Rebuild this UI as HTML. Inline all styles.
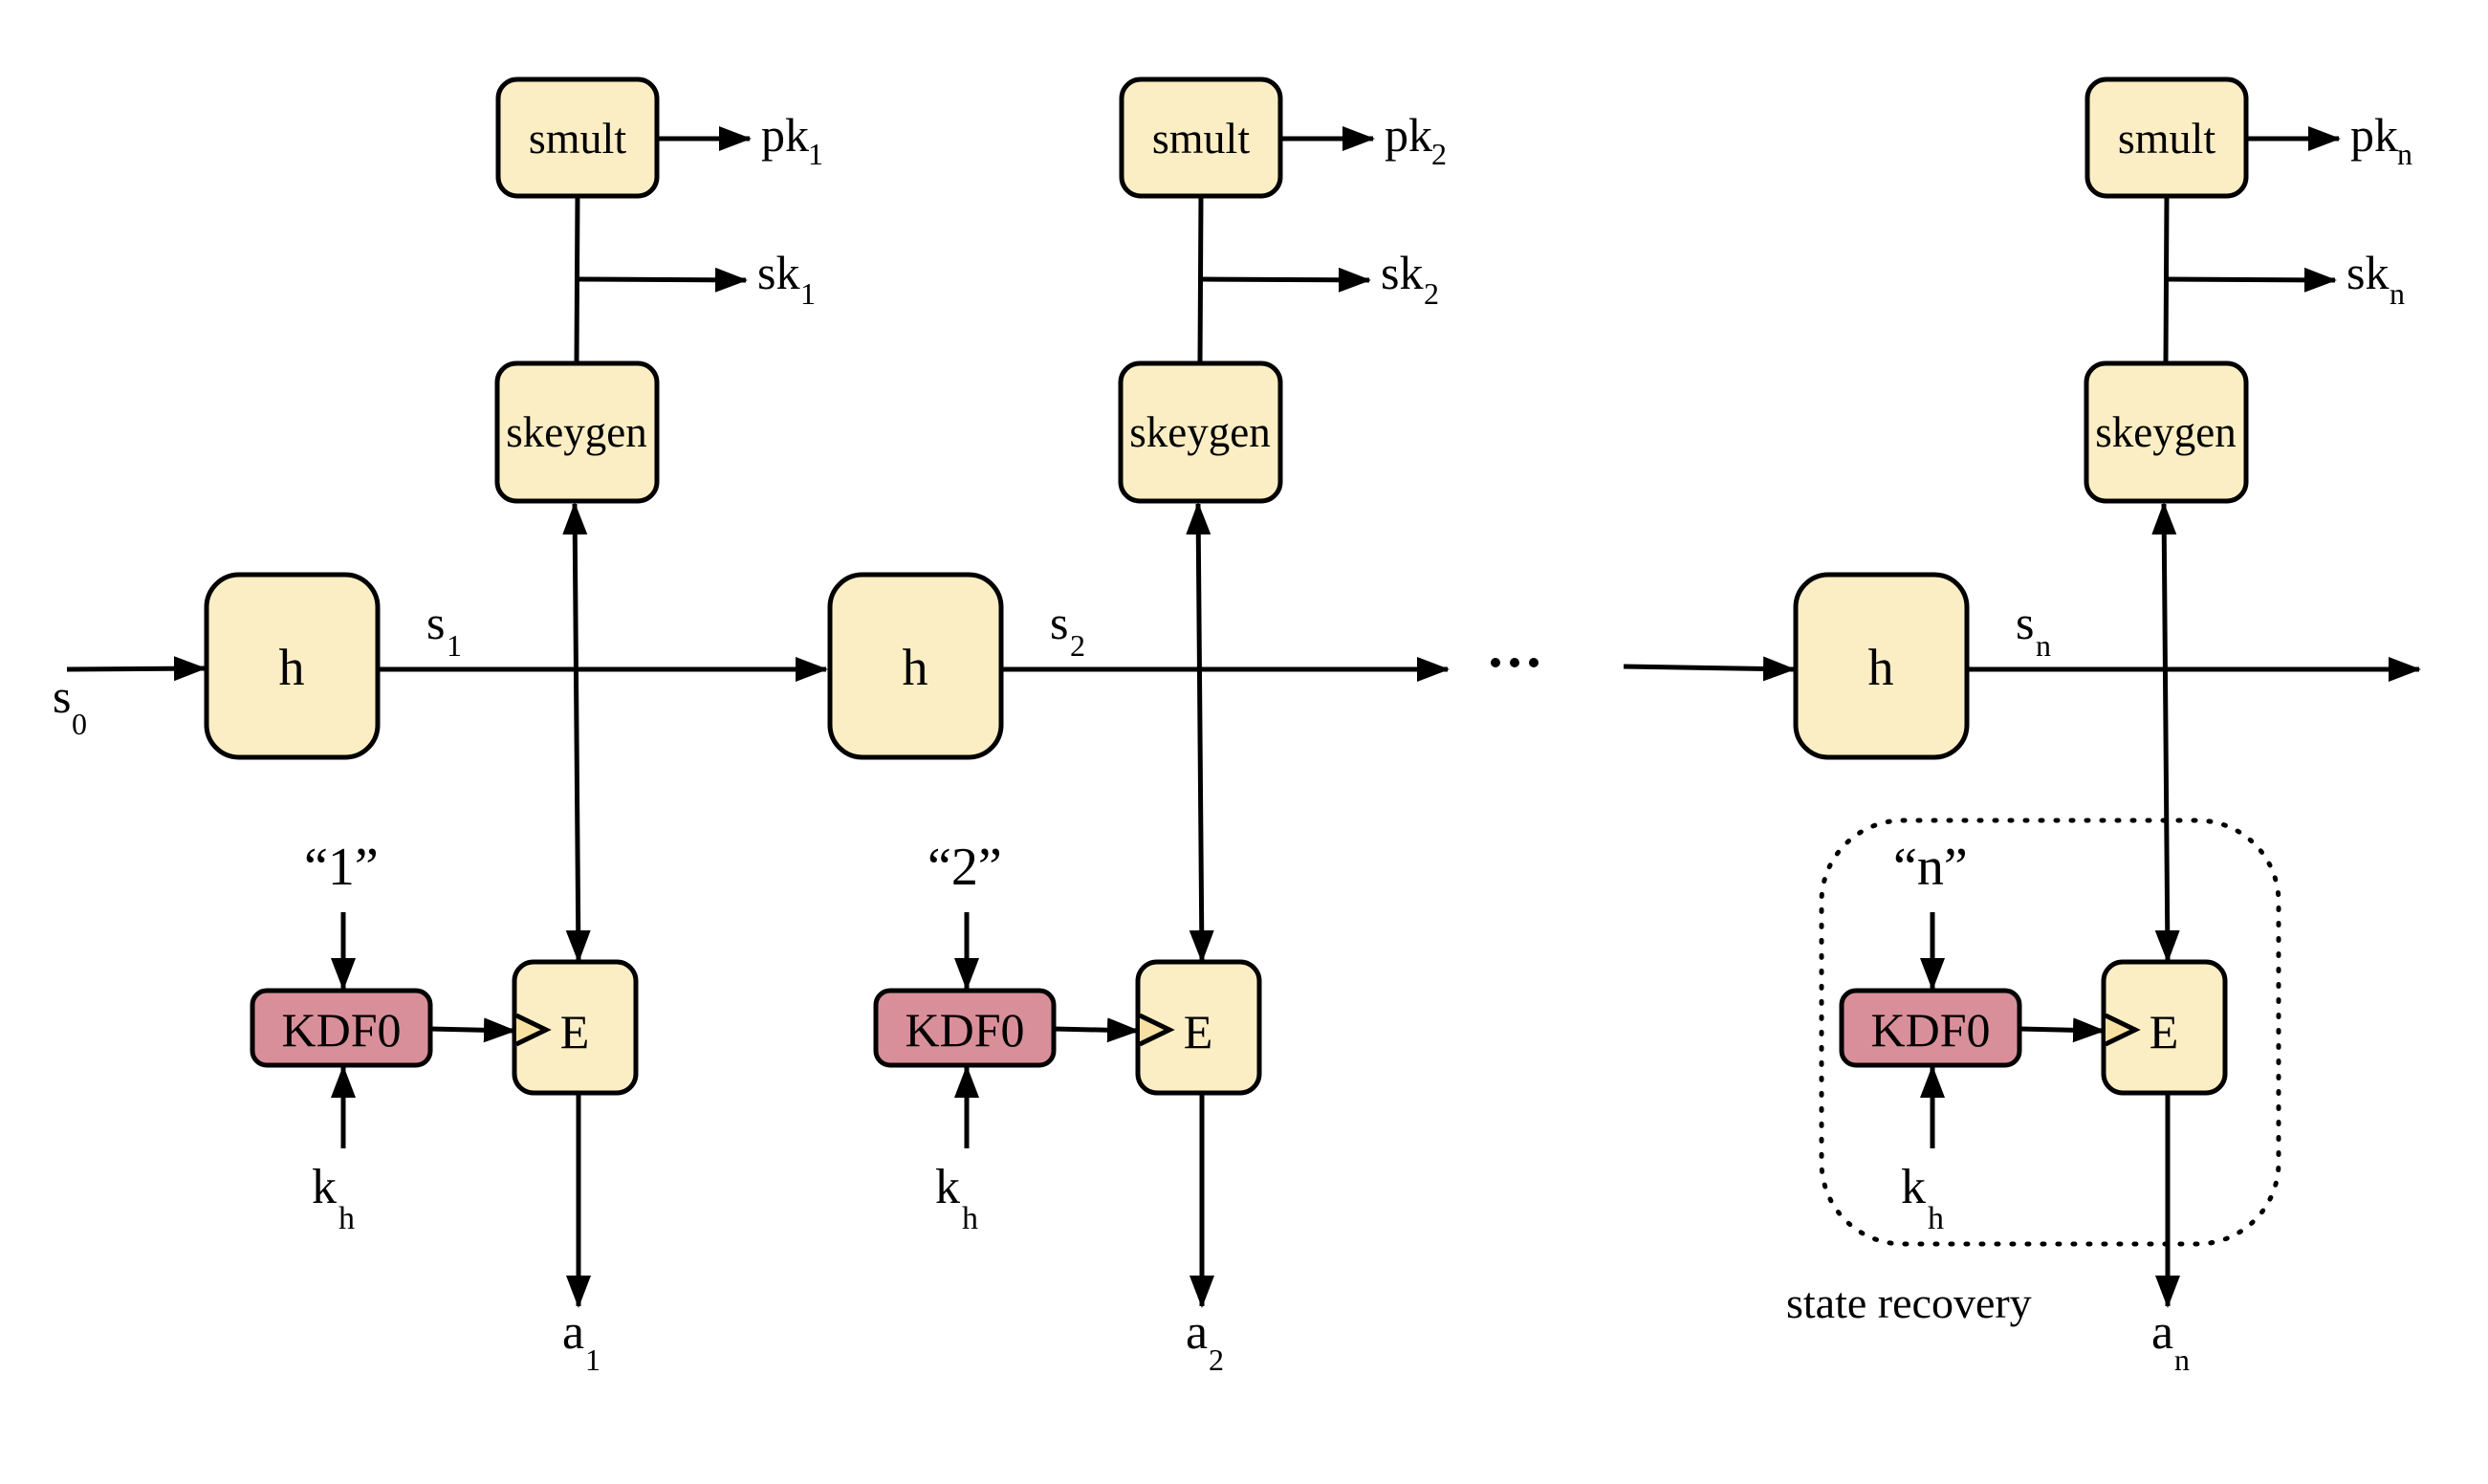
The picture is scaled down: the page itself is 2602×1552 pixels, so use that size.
<!DOCTYPE html>
<html><head><meta charset="utf-8"><style>
html,body{margin:0;padding:0;background:#fff;}
svg{display:block;}
text{font-family:"Liberation Serif",serif;fill:#000;}
</style></head><body>
<svg width="2602" height="1552" viewBox="0 0 2602 1552" xmlns="http://www.w3.org/2000/svg">
<defs>
<marker id="a" markerUnits="userSpaceOnUse" markerWidth="34" markerHeight="26" refX="32" refY="13" orient="auto">
<path d="M0,0 L34,13 L0,26 z" fill="#000"/>
</marker>
<marker id="b" markerUnits="userSpaceOnUse" markerWidth="34" markerHeight="26" refX="2" refY="13" orient="auto">
<path d="M34,0 L0,13 L34,26 z" fill="#000"/>
</marker>
<g id="col">
<line x1="604" y1="205" x2="603" y2="379" stroke="#000" stroke-width="5"/>
<line x1="604" y1="292" x2="780" y2="293" stroke="#000" stroke-width="5" marker-end="url(#a)"/>
<line x1="687" y1="145" x2="784" y2="145" stroke="#000" stroke-width="5" marker-end="url(#a)"/>
<line x1="601" y1="527" x2="605" y2="1005" stroke="#000" stroke-width="5" marker-start="url(#b)" marker-end="url(#a)"/>
<line x1="605" y1="1145" x2="605" y2="1366" stroke="#000" stroke-width="5" marker-end="url(#a)"/>
<line x1="359" y1="954" x2="359" y2="1034" stroke="#000" stroke-width="5" marker-end="url(#a)"/>
<line x1="359" y1="1201" x2="359" y2="1116" stroke="#000" stroke-width="5" marker-end="url(#a)"/>
<line x1="450" y1="1076" x2="538" y2="1078" stroke="#000" stroke-width="5" marker-end="url(#a)"/>
<rect x="521" y="83" width="166" height="122" rx="20" fill="#fbeec4" stroke="#000" stroke-width="5"/>
<text x="604" y="160" font-size="46" text-anchor="middle">smult</text>
<rect x="520" y="380" width="167" height="144" rx="20" fill="#fbeec4" stroke="#000" stroke-width="5"/>
<text x="603" y="467" font-size="45" text-anchor="middle">skeygen</text>
<rect x="216" y="601" width="179" height="191" rx="34" fill="#fbeec4" stroke="#000" stroke-width="5"/>
<text x="305" y="716" font-size="54" text-anchor="middle">h</text>
<rect x="538" y="1006" width="127" height="137" rx="20" fill="#fbeec4" stroke="#000" stroke-width="5"/>
<path d="M540,1062 L571,1077 L540,1092" fill="#f8e0a0" stroke="#000" stroke-width="5"/>
<text x="601" y="1096" font-size="50" text-anchor="middle">E</text>
<rect x="264" y="1036" width="186" height="78" rx="15" fill="#d98f9a" stroke="#000" stroke-width="5"/>
<text x="357" y="1094" font-size="50" text-anchor="middle">KDF0</text>
<text x="326" y="1258" font-size="52">k</text>
<text x="354" y="1285" font-size="34">h</text>
</g>
</defs>

<use href="#col"/>
<text x="796" y="158" font-size="50">pk</text><text x="845" y="172" font-size="32">1</text>
<text x="792" y="302" font-size="50">sk</text><text x="837" y="318" font-size="32">1</text>
<text x="318" y="925" font-size="56">“1”</text>
<text x="588" y="1410" font-size="52">a</text><text x="612" y="1433" font-size="32">1</text>
<line x1="70" y1="700" x2="214" y2="699" stroke="#000" stroke-width="5" marker-end="url(#a)"/>
<text x="55" y="745" font-size="50">s</text><text x="75" y="768" font-size="32">0</text>
<line x1="395" y1="700" x2="864" y2="700" stroke="#000" stroke-width="5" marker-end="url(#a)"/>
<text x="446" y="668" font-size="50">s</text><text x="467" y="686" font-size="32">1</text>

<g transform="translate(652,0)"><use href="#col"/></g>
<text x="1448" y="158" font-size="50">pk</text><text x="1497" y="172" font-size="32">2</text>
<text x="1444" y="302" font-size="50">sk</text><text x="1489" y="318" font-size="32">2</text>
<text x="970" y="925" font-size="56">“2”</text>
<text x="1240" y="1410" font-size="52">a</text><text x="1264" y="1433" font-size="32">2</text>
<line x1="1047" y1="700" x2="1514" y2="700" stroke="#000" stroke-width="5" marker-end="url(#a)"/>
<text x="1098" y="668" font-size="50">s</text><text x="1119" y="686" font-size="32">2</text>
<circle cx="1564" cy="693" r="5" fill="#000"/>
<circle cx="1584" cy="693" r="5" fill="#000"/>
<circle cx="1604" cy="693" r="5" fill="#000"/>

<g transform="translate(1662,0)"><use href="#col"/></g>
<text x="2458" y="158" font-size="50">pk</text><text x="2507" y="172" font-size="32">n</text>
<text x="2454" y="302" font-size="50">sk</text><text x="2499" y="318" font-size="32">n</text>
<text x="1980" y="925" font-size="56">“n”</text>
<text x="2250" y="1410" font-size="52">a</text><text x="2274" y="1433" font-size="32">n</text>
<line x1="1698" y1="697" x2="1876" y2="700" stroke="#000" stroke-width="5" marker-end="url(#a)"/>
<line x1="2057" y1="700" x2="2530" y2="700" stroke="#000" stroke-width="5" marker-end="url(#a)"/>
<text x="2108" y="668" font-size="50">s</text><text x="2129" y="686" font-size="32">n</text>
<rect x="1905" y="858" width="478" height="443" rx="85" fill="none" stroke="#000" stroke-width="5" stroke-dasharray="2 14" stroke-linecap="round"/>
<text x="1868" y="1378" font-size="46">state recovery</text>
</svg>
</body></html>
